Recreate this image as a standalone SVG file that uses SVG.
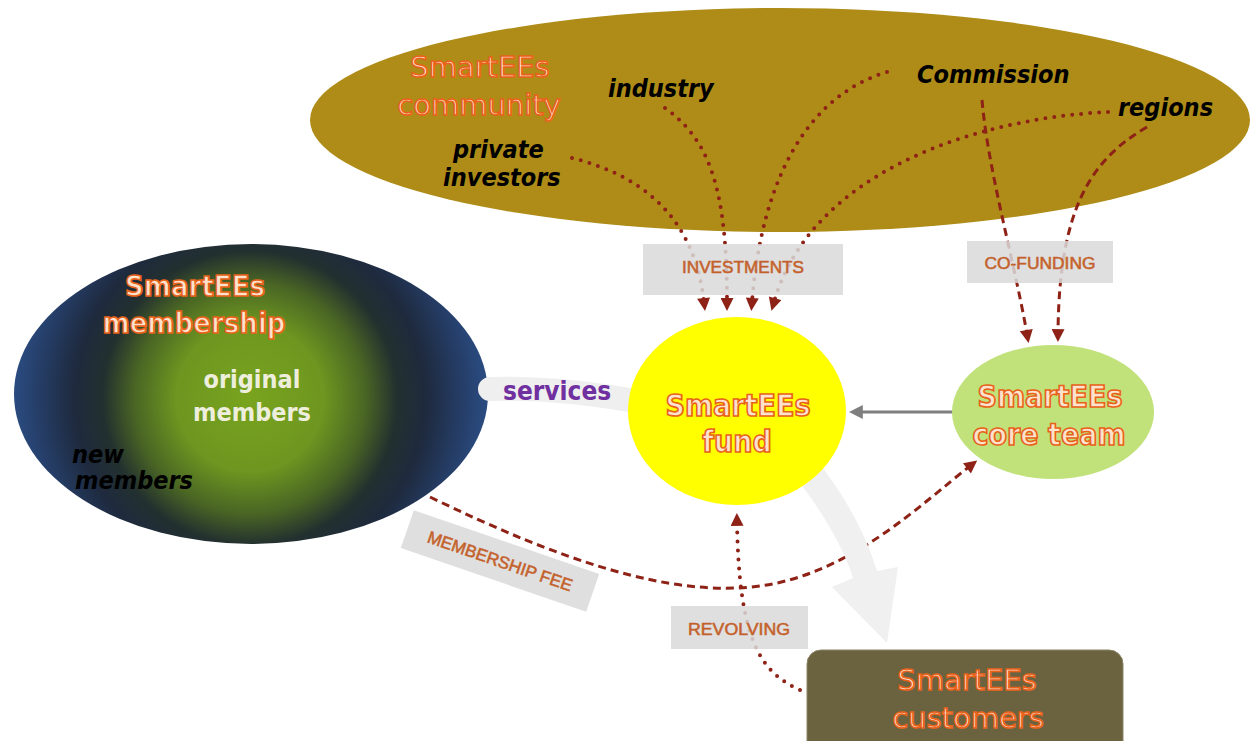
<svg xmlns="http://www.w3.org/2000/svg" width="1252" height="741" viewBox="0 0 1252 741">
<defs>
  <radialGradient id="memGrad" gradientUnits="userSpaceOnUse" cx="250" cy="398" r="245">
    <stop offset="0" stop-color="#78a41e"/>
    <stop offset="0.3" stop-color="#6e9620"/>
    <stop offset="0.47" stop-color="#4a6624"/>
    <stop offset="0.6" stop-color="#23302f"/>
    <stop offset="0.72" stop-color="#1e2a3e"/>
    <stop offset="0.86" stop-color="#253d66"/>
    <stop offset="1" stop-color="#2c508a"/>
  </radialGradient>
  <marker id="ahRed" viewBox="0 0 10 10" refX="3" refY="5" markerWidth="14" markerHeight="13" markerUnits="userSpaceOnUse" orient="auto">
    <path d="M0,0 L10,5 L0,10 z" fill="#8e2216"/>
  </marker>
  <marker id="ahGray" viewBox="0 0 10 10" refX="2" refY="5" markerWidth="14" markerHeight="14" markerUnits="userSpaceOnUse" orient="auto">
    <path d="M0,0 L10,5 L0,10 z" fill="#7f7f7f"/>
  </marker>
  <style>
    .cond { font-family: "DejaVu Sans Condensed", "DejaVu Sans", sans-serif; font-weight: bold; }
    .reg { font-family: "DejaVu Sans", "Noto Sans", sans-serif; }
    .orange { fill: #fde2cc; stroke: #e8621a; stroke-width: 1.6; }
    .blackit { font-family: "DejaVu Sans Condensed", "DejaVu Sans", sans-serif; font-weight: bold; font-style: italic; fill: #000; font-size: 25px; }
    .dot { fill: none; stroke: #8e2216; stroke-width: 4; stroke-linecap: round; stroke-dasharray: 0 9; }
    .dash { fill: none; stroke: #8e2216; stroke-width: 3; stroke-dasharray: 8 5; }
    .lblbox { fill: #d9d9d9; opacity: 0.85; }
    .lbl { font-family: "Liberation Sans", Arial, sans-serif; font-size: 17px; fill: #bf5c28; stroke: #c86a36; stroke-width: 0.6; }
  </style>
</defs>
<rect width="1252" height="741" fill="#ffffff"/>

<g id="community">
  <ellipse cx="780" cy="120" rx="470" ry="112" fill="#ae8c17"/>
  <text class="reg orange" x="480" y="77" font-size="29" text-anchor="middle">SmartEEs</text>
  <text class="reg orange" x="479" y="115" font-size="29" text-anchor="middle">community</text>
  <text class="blackit" x="608" y="97">industry</text>
  <text class="blackit" x="453" y="158" font-size="24">private</text>
  <text class="blackit" x="443" y="186" font-size="24">investors</text>
  <text class="blackit" x="917" y="83">Commission</text>
  <text class="blackit" x="1118" y="116">regions</text>
</g>

<g id="membership">
  <ellipse cx="251" cy="394" rx="237" ry="150" fill="url(#memGrad)"/>
  <text class="cond orange" x="195" y="296" font-size="29" text-anchor="middle">SmartEEs</text>
  <text class="cond orange" x="194" y="333" font-size="29" text-anchor="middle">membership</text>
  <text class="cond" x="252" y="388" font-size="25" fill="#eeeedd" text-anchor="middle">original</text>
  <text class="cond" x="252" y="421" font-size="25" fill="#eeeedd" text-anchor="middle">members</text>
  <text class="blackit" x="72" y="463">new</text>
  <text class="blackit" x="75" y="489">members</text>
</g>

<g id="services">
  <path d="M490,389 Q560,387 640,402" fill="none" stroke="#efefef" stroke-width="24" stroke-linecap="round"/>
  <text class="cond" x="503" y="400" font-size="26" fill="#7030a0">services</text>
</g>

<g id="connectors">
  <!-- investments (dotted) -->
  <path class="dot" d="M572,158 C640,175 694,215 704,302" marker-end="url(#ahRed)"/>
  <path class="dot" d="M665,108 C710,140 727,190 727,302" marker-end="url(#ahRed)"/>
  <path class="dot" d="M887,72 C810,95 762,175 752,302" marker-end="url(#ahRed)"/>
  <path class="dot" d="M1108,112 C980,118 812,170 774,302" marker-end="url(#ahRed)"/>
  <!-- co-funding (dashed) -->
  <path class="dash" d="M982,100 C988,170 1014,260 1027,334" marker-end="url(#ahRed)"/>
  <path class="dash" d="M1147,127 C1090,160 1059,210 1058,333" marker-end="url(#ahRed)"/>
  <!-- membership fee (dashed) -->
  <path class="dash" d="M430,497 C560,560 670,598 760,586 C850,574 920,505 970,466" marker-end="url(#ahRed)"/>
  <!-- revolving (dotted) -->
  <path class="dot" d="M800,690 C760,672 739,640 737,522" marker-end="url(#ahRed)"/>
  <!-- core team to fund -->
  <line x1="953" y1="412" x2="860" y2="412" stroke="#7f7f7f" stroke-width="3" marker-end="url(#ahGray)"/>
  <!-- fund to customers (big light arrow) -->
  <path d="M790,470 C818,505 843,545 853,578 L832,587 L887,643 L898,567 L877,571 C866,535 845,495 815,458 Z" fill="#f0f0f0"/>
</g>

<g id="fund">
  <ellipse cx="737" cy="411" rx="109" ry="94" fill="#ffff00"/>
  <text class="cond orange" x="738" y="416" font-size="30" text-anchor="middle">SmartEEs</text>
  <text class="cond orange" x="737" y="452" font-size="30" text-anchor="middle">fund</text>
</g>

<g id="coreteam">
  <ellipse cx="1053" cy="412" rx="101" ry="67" fill="#c1e27b"/>
  <text class="cond orange" x="1050" y="407" font-size="30" text-anchor="middle">SmartEEs</text>
  <text class="cond orange" x="1049" y="445" font-size="30" text-anchor="middle">core team</text>
</g>

<g id="customers">
  <rect x="807" y="650" width="316" height="110" rx="14" fill="#6b6240" stroke="#8c8466" stroke-width="1"/>
  <text class="reg orange" x="967" y="690" font-size="29" text-anchor="middle">SmartEEs</text>
  <text class="reg orange" x="968" y="728" font-size="29" text-anchor="middle">customers</text>
</g>

<g id="labels">
  <rect class="lblbox" x="643" y="244" width="200" height="51"/>
  <text class="lbl" x="743" y="273" text-anchor="middle" textLength="122" lengthAdjust="spacingAndGlyphs">INVESTMENTS</text>
  <rect class="lblbox" x="967" y="241" width="146" height="42"/>
  <text class="lbl" x="1040" y="269" text-anchor="middle" textLength="111" lengthAdjust="spacingAndGlyphs">CO-FUNDING</text>
  <rect class="lblbox" x="671" y="606" width="137" height="43"/>
  <text class="lbl" x="739" y="635" text-anchor="middle" textLength="102" lengthAdjust="spacingAndGlyphs">REVOLVING</text>
  <g transform="rotate(19 500 561)">
    <rect class="lblbox" x="402" y="541" width="196" height="40"/>
    <text class="lbl" x="500" y="567" text-anchor="middle" textLength="152" lengthAdjust="spacingAndGlyphs">MEMBERSHIP FEE</text>
  </g>
</g>
</svg>
